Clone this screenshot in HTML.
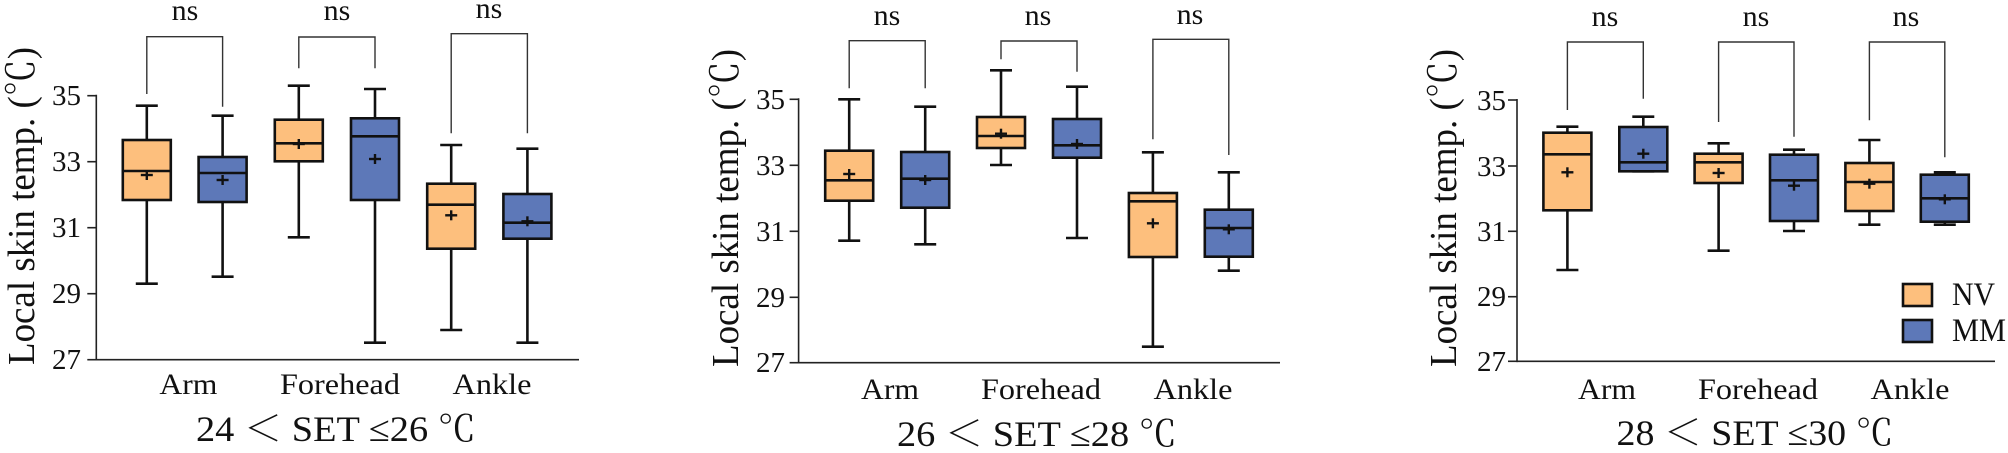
<!DOCTYPE html>
<html><head><meta charset="utf-8"><style>
html,body{margin:0;padding:0;background:#fff;}
svg{display:block;}
text{font-family:"Liberation Serif","Noto Serif CJK SC",serif;fill:#111;}
</style></head><body>
<svg id="s" width="2008" height="453" viewBox="0 0 2008 453" xmlns="http://www.w3.org/2000/svg">
<g id="g"></g>
<g font-size="29" text-anchor="end">
<text x="81" y="105">35</text><text x="81" y="171">33</text><text x="81" y="237">31</text><text x="81" y="303">29</text><text x="81" y="369">27</text>
<text x="785" y="109">35</text><text x="785" y="175">33</text><text x="785" y="241">31</text><text x="785" y="307">29</text><text x="785" y="372">27</text>
<text x="1506" y="110">35</text><text x="1506" y="176">33</text><text x="1506" y="241">31</text><text x="1506" y="306">29</text><text x="1506" y="371">27</text>
</g>
<text transform="translate(34,365) rotate(-90)" font-size="38" textLength="318" lengthAdjust="spacingAndGlyphs">Local skin temp. (℃)</text>
<text transform="translate(738,367) rotate(-90)" font-size="38" textLength="318" lengthAdjust="spacingAndGlyphs">Local skin temp. (℃)</text>
<text transform="translate(1456,367) rotate(-90)" font-size="38" textLength="318" lengthAdjust="spacingAndGlyphs">Local skin temp. (℃)</text>
<g font-size="30" text-anchor="middle">
<text x="188.4" y="394" textLength="58" lengthAdjust="spacingAndGlyphs">Arm</text>
<text x="340" y="394" textLength="120" lengthAdjust="spacingAndGlyphs">Forehead</text>
<text x="492" y="394" textLength="79" lengthAdjust="spacingAndGlyphs">Ankle</text>
<text x="890" y="399" textLength="58" lengthAdjust="spacingAndGlyphs">Arm</text>
<text x="1041" y="399" textLength="120" lengthAdjust="spacingAndGlyphs">Forehead</text>
<text x="1193" y="399" textLength="79" lengthAdjust="spacingAndGlyphs">Ankle</text>
<text x="1607" y="399" textLength="58" lengthAdjust="spacingAndGlyphs">Arm</text>
<text x="1758" y="399" textLength="120" lengthAdjust="spacingAndGlyphs">Forehead</text>
<text x="1910" y="399" textLength="79" lengthAdjust="spacingAndGlyphs">Ankle</text>
</g>
<g font-size="30" text-anchor="middle">
<text x="185" y="20">ns</text><text x="337" y="20">ns</text><text x="489" y="18">ns</text>
<text x="887" y="25">ns</text><text x="1038" y="25">ns</text><text x="1190" y="24">ns</text>
<text x="1605" y="26">ns</text><text x="1756" y="26">ns</text><text x="1906" y="26">ns</text>
</g>
<g font-size="36" text-anchor="middle">
<text x="336" y="441" textLength="280" lengthAdjust="spacingAndGlyphs">24 ＜ SET ≤26 ℃</text>
<text x="1037" y="446" textLength="280" lengthAdjust="spacingAndGlyphs">26 ＜ SET ≤28 ℃</text>
<text x="1755" y="445" textLength="277" lengthAdjust="spacingAndGlyphs">28 ＜ SET ≤30 ℃</text>
</g>
<g font-size="33">
<text x="1952" y="305" textLength="43" lengthAdjust="spacingAndGlyphs">NV</text>
<text x="1952" y="341" textLength="54" lengthAdjust="spacingAndGlyphs">MM</text>
</g>
</svg>
<script>
var g=document.getElementById('g'),h='';
var O='#FDBF7D',B='#5D78B8';
function ln(a,b,c,d,w,col){h+='<line x1="'+a+'" y1="'+b+'" x2="'+c+'" y2="'+d+'" stroke="'+(col||'#111')+'" stroke-width="'+(w||2.6)+'"/>';}
function axis(x,ys,xe){ln(x,ys[0]-1,x,ys[4]+0.8,1.6,'#222');ln(x,ys[4],xe,ys[4],1.6,'#222');ys.forEach(function(y){ln(x-9,y,x,y,1.6,'#222');});}
function box(c,q3,q1,med,wt,wb,mean,col){
 ln(c,wt,c,q3);ln(c,q1,c,wb);ln(c-11,wt,c+11,wt);ln(c-11,wb,c+11,wb);
 h+='<rect x="'+(c-24)+'" y="'+q3+'" width="48" height="'+(q1-q3)+'" fill="'+col+'" stroke="#111" stroke-width="2.6"/>';
 ln(c-24,med,c+24,med);ln(c-6,mean,c+6,mean,2.4);ln(c,mean-5,c,mean+5,2.4);}
function br(x1,x2,top,l,r){h+='<polyline points="'+x1+','+l+' '+x1+','+top+' '+x2+','+top+' '+x2+','+r+'" fill="none" stroke="#333" stroke-width="1.4"/>';}
// panel 1
axis(96.3,[95.7,161.7,227.7,293.7,359.7],579);
box(146.8,140,200,171,105.7,283.7,175,O);box(222.6,157,202,173,115.7,276.7,180,B);
box(298.8,119.7,161.3,143.3,85.7,237.3,144,O);box(375,118.3,200,136.3,89,342.7,159,B);
box(451.2,183.7,248.7,204.7,145,330,215.3,O);box(527.4,194,238.7,222.7,148.7,342.7,221.3,B);
br(146.8,222.6,36.7,94,106.7);br(298.8,375,37,68.3,68.3);br(451.2,527.4,33.7,133.3,133.3);
// panel 2
axis(798.6,[99.3,165.3,231.3,297.3,362.7],1280);
box(849.2,150.7,200.7,180.3,99.3,240.7,174,O);box(925.2,152,207.7,178.7,106.7,244.3,180,B);
box(1001,117,148,136,70.3,165,133.7,O);box(1077,119,157.7,145.3,86.7,238,144,B);
box(1152.9,193,257,201.3,152.3,346.7,223.3,O);box(1228.8,209.7,256.7,228,172.3,270.7,229.3,B);
br(849.2,925.2,40.7,88.3,88.3);br(1001,1077,41,59.3,71.7);br(1152.9,1228.8,39.3,139.3,155);
// panel 3
axis(1517,[100,166,231.3,296.7,361.3],1995);
box(1567.4,132.7,210.3,154.3,126.7,270,172.3,O);box(1643.3,127,171.3,162.3,116.7,171.3,153.7,B);
box(1718.6,153.7,183,162.3,143.3,250.7,173,O);box(1794,154.7,221,180.3,149.7,231,185.7,B);
box(1869.4,163,211,182,140,224.7,183.7,O);box(1944.8,174.7,221.7,198.3,172.3,224.7,199.3,B);
br(1567.4,1643.3,42,110,98.7);br(1718.6,1794,42,122,136.7);br(1869.4,1944.8,42,120.3,157.3);
// legend
h+='<rect x="1903" y="284" width="29" height="22" fill="'+O+'" stroke="#111" stroke-width="2.6"/>';
h+='<rect x="1903" y="320" width="29" height="22" fill="'+B+'" stroke="#111" stroke-width="2.6"/>';
g.innerHTML=h;
</script>
</body></html>
